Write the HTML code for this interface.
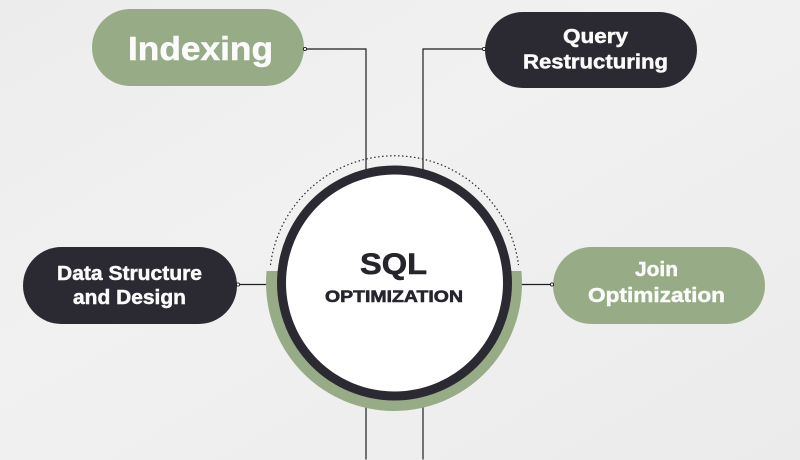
<!DOCTYPE html>
<html><head><meta charset="utf-8"><style>
html,body{margin:0;padding:0;width:800px;height:460px;overflow:hidden;}
body{background:#eeeeee;}
svg{display:block;position:absolute;left:0;top:0;}
text{font-family:"Liberation Sans",sans-serif;font-weight:bold;}
</style></head><body>
<svg width="800" height="460" viewBox="0 0 800 460" xmlns="http://www.w3.org/2000/svg">
<defs>
<linearGradient id="bg" x1="0" y1="0" x2="1" y2="1">
<stop offset="0" stop-color="#ececec"/>
<stop offset="0.4" stop-color="#f1f1f1"/>
<stop offset="1" stop-color="#ebebeb"/>
</linearGradient>
<clipPath id="lower"><rect x="0" y="271" width="800" height="189"/></clipPath>
</defs>
<rect width="800" height="460" fill="url(#bg)"/>

<!-- connectors -->
<g stroke="#1e1e22" stroke-width="1.2" fill="none">
<polyline points="304,49 366,49 366,180"/>
<polyline points="485,49 423,49 423,180"/>
<line x1="366" y1="400" x2="366" y2="459.5"/>
<line x1="423" y1="400" x2="423" y2="459.5"/>
<line x1="237" y1="284.5" x2="268" y2="284.5"/>
<line x1="520" y1="284.5" x2="553" y2="284.5"/>
</g>

<!-- dotted arc -->
<path d="M 270.5 265 A 125 125 0 0 1 518.5 265" fill="none" stroke="#2a2a30" stroke-width="1.2" stroke-dasharray="1.5 2.5"/>

<!-- green half ring -->
<circle cx="394" cy="283" r="128" fill="#97ac86" clip-path="url(#lower)"/>
<!-- dark ring + white -->
<circle cx="394.5" cy="283" r="117.5" fill="#2b2a32"/>
<circle cx="394.5" cy="283" r="108.5" fill="#ffffff"/>

<g fill="#26252c" stroke="#26252c" stroke-width="0.6" text-anchor="middle">
<text x="393.5" y="274" font-size="30" textLength="67" lengthAdjust="spacingAndGlyphs">SQL</text>
<text x="394" y="302" font-size="17" textLength="138" lengthAdjust="spacingAndGlyphs">OPTIMIZATION</text>
</g>

<!-- Indexing pill -->
<rect x="92" y="9" width="212" height="77" rx="38.5" fill="#97ac86"/>
<!-- Query pill -->
<rect x="485" y="12" width="212" height="76" rx="38" fill="#2b2a32"/>
<!-- Data Structure pill -->
<rect x="23" y="247" width="214" height="77" rx="38.5" fill="#2b2a32"/>
<!-- Join pill -->
<rect x="553" y="247" width="212" height="77" rx="38.5" fill="#97ac86"/>

<g fill="#fbfbfb" stroke="#fbfbfb" stroke-width="0.5" text-anchor="middle">
<text x="200.5" y="60" font-size="33" textLength="145" lengthAdjust="spacingAndGlyphs">Indexing</text>
<text x="595.5" y="43" font-size="20.5" textLength="65" lengthAdjust="spacingAndGlyphs">Query</text>
<text x="595.5" y="68.5" font-size="20.5" textLength="145" lengthAdjust="spacingAndGlyphs">Restructuring</text>
<text x="129.5" y="280" font-size="20.5" textLength="145" lengthAdjust="spacingAndGlyphs">Data Structure</text>
<text x="129.5" y="304" font-size="20.5" textLength="113" lengthAdjust="spacingAndGlyphs">and Design</text>
<text x="656.5" y="276" font-size="20.5" textLength="43" lengthAdjust="spacingAndGlyphs">Join</text>
<text x="656.5" y="302" font-size="20.5" textLength="137" lengthAdjust="spacingAndGlyphs">Optimization</text>
</g>

<!-- endpoint dots -->
<g fill="#ffffff" stroke="#1e1e22" stroke-width="0.9">
<circle cx="305" cy="49" r="1.6"/>
<circle cx="484" cy="49" r="1.6"/>
<circle cx="238" cy="284.5" r="1.6"/>
<circle cx="552" cy="284.5" r="1.6"/>
</g>
</svg>
</body></html>
